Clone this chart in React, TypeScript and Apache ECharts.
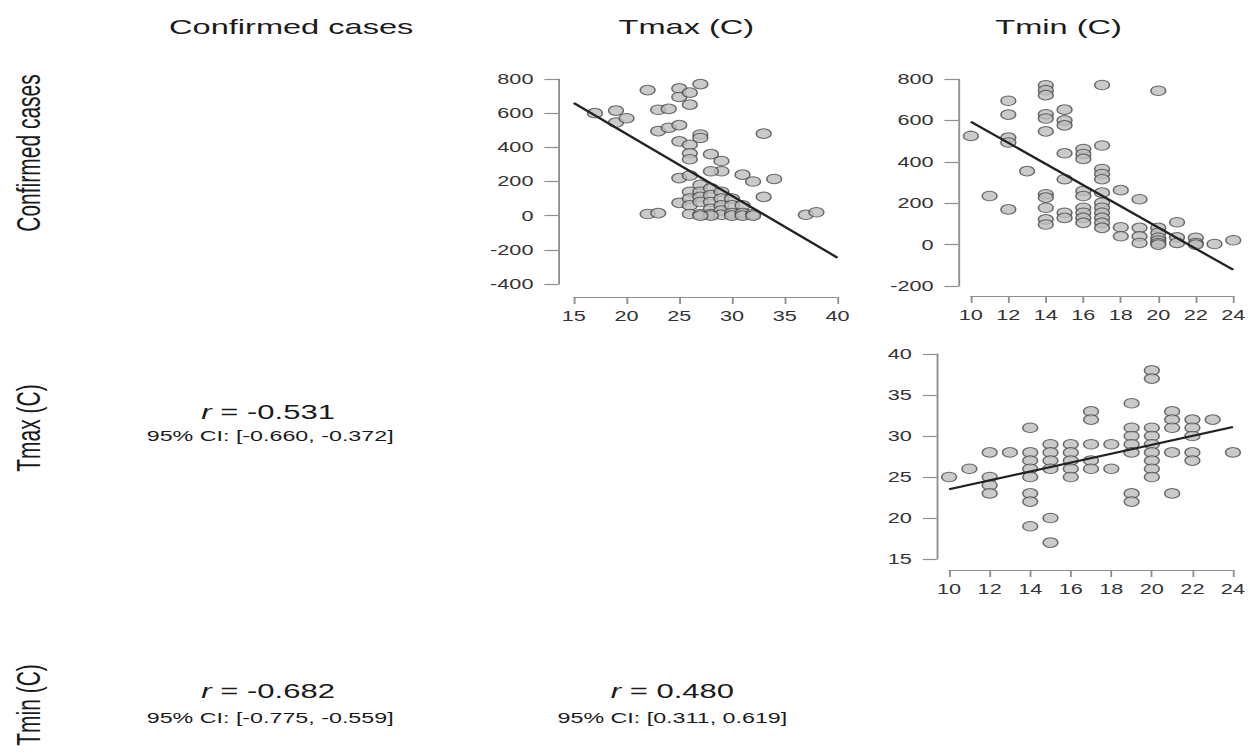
import { useEffect, useRef } from "react";
import * as echarts from "echarts";

// ---------------- data ----------------
const colHeaders = ["Confirmed cases", "Tmax (C)", "Tmin (C)"];
const rowHeaders = ["Confirmed cases", "Tmax (C)", "Tmin (C)"];

// Tmax (x) vs Confirmed cases (y)
const tmaxCasesPts: number[][] = [
  [17, 600], [19, 615], [19, 545], [20, 570], [22, 735], [23, 620], [24, 625], [23, 495], [24, 515],
  [25, 530], [25, 745], [25, 695], [26, 720], [26, 650], [27, 770], [25, 435], [26, 415], [26, 365],
  [26, 330], [27, 475], [27, 455], [28, 360], [29, 320], [29, 260], [28, 260], [25, 220], [26, 235],
  [31, 240], [32, 200], [33, 480], [34, 215], [33, 110], [25, 75], [22, 10], [23, 15], [37, 5], [38, 20],
  [26, 140], [26, 100], [26, 60], [26, 10], [27, 180], [27, 140], [27, 110], [27, 80], [27, 10],
  [28, 160], [28, 120], [28, 80], [28, 40], [28, 10], [29, 140], [29, 100], [29, 60], [29, 30], [29, 5],
  [30, 100], [30, 60], [30, 15], [30, 0], [31, 60], [31, 15], [31, 0], [32, 10], [32, 0], [28, 0], [27, 0],
];
const tmaxCasesFit: number[][] = [[15, 660], [40, -246]];

// Tmin (x) vs Confirmed cases (y)
const tminCasesPts: number[][] = [
  [10, 525], [11, 235], [12, 695], [12, 628], [12, 517], [12, 493], [12, 170], [13, 355],
  [14, 770], [14, 746], [14, 722], [14, 630], [14, 609], [14, 547], [14, 243], [14, 227], [14, 178], [14, 122], [14, 97],
  [15, 652], [15, 600], [15, 576], [15, 441], [15, 316], [15, 154], [15, 129],
  [16, 462], [16, 438], [16, 414], [16, 259], [16, 235], [16, 178], [16, 154], [16, 129], [16, 105],
  [17, 771], [17, 479], [17, 365], [17, 341], [17, 316], [17, 251], [17, 202], [17, 178], [17, 154], [17, 129], [17, 105], [17, 81],
  [18, 263], [18, 84], [18, 40],
  [19, 219], [19, 81], [19, 40], [19, 8],
  [20, 743], [20, 81], [20, 57], [20, 33], [20, 20], [20, 8], [20, 0],
  [21, 108], [21, 35], [21, 8],
  [22, 33], [22, 8], [22, 0],
  [23, 3], [24, 21],
];
const tminCasesFit: number[][] = [[10, 594], [24, -122]];

// Tmin (x) vs Tmax (y)
const tminTmaxPts: number[][] = [
  [10, 25], [11, 26], [12, 28], [12, 25], [12, 24], [12, 23], [13, 28],
  [14, 31], [14, 28], [14, 27], [14, 26], [14, 25], [14, 23], [14, 22], [14, 19],
  [15, 29], [15, 28], [15, 27], [15, 26], [15, 20], [15, 17],
  [16, 29], [16, 28], [16, 27], [16, 26], [16, 25],
  [17, 33], [17, 32], [17, 29], [17, 27], [17, 26],
  [18, 29], [18, 26],
  [19, 34], [19, 31], [19, 30], [19, 29], [19, 28], [19, 23], [19, 22],
  [20, 38], [20, 37], [20, 31], [20, 30], [20, 29], [20, 28], [20, 27], [20, 26], [20, 25],
  [21, 33], [21, 32], [21, 31], [21, 28], [21, 23],
  [22, 32], [22, 31], [22, 30], [22, 28], [22, 27],
  [23, 32], [24, 28],
];
const tminTmaxFit: number[][] = [[10, 23.5], [24, 31.1]];

const rValues = ["-0.531", "-0.682", "0.480"];
const ciTexts = ["95% CI: [-0.660, -0.372]", "95% CI: [-0.775, -0.559]", "95% CI: [0.311, 0.619]"];

// ---------------- layout / style ----------------
const STRETCH = 1.55;
const W = Math.round(1250 / STRETCH);
const H = 755;
const FONT = "'Liberation Sans', Arial, Helvetica, sans-serif";
const AXIS = "#8f8f8f";
const LABEL = "#333";

function xAx(gi: number, min: number, max: number, interval: number, offset: number) {
  return {
    type: "value", gridIndex: gi, min, max, interval, offset,
    axisLine: { show: true, onZero: false, lineStyle: { color: AXIS, width: 1.2 } },
    axisTick: { show: true, length: 7, lineStyle: { color: AXIS, width: 1.2 } },
    axisLabel: { color: LABEL, fontSize: 14, fontFamily: FONT, margin: 12 },
    splitLine: { show: false },
  };
}
function yAx(gi: number, min: number, max: number, interval: number, offset: number) {
  return {
    type: "value", gridIndex: gi, min, max, interval, offset,
    axisLine: { show: true, onZero: false, lineStyle: { color: AXIS, width: 1.2 } },
    axisTick: { show: true, length: 9, lineStyle: { color: AXIS, width: 1.2 } },
    axisLabel: { color: LABEL, fontSize: 14, fontFamily: FONT, margin: 16 },
    splitLine: { show: false },
  };
}
function scatter(i: number, data: number[][]) {
  return {
    type: "scatter", xAxisIndex: i, yAxisIndex: i, data, symbol: "circle", symbolSize: 9.5,
    itemStyle: { color: "#bdbdbd", borderColor: "#4a4a4a", borderWidth: 1 },
    z: 2,
  };
}
function fit(i: number, data: number[][]) {
  return {
    type: "line", xAxisIndex: i, yAxisIndex: i, data, symbol: "none", silent: true,
    lineStyle: { color: "#222", width: 2 }, z: 3,
  };
}
function txt(x: number, y: number, text: string, fontSize: number, extra: any = {}) {
  return {
    type: "text", x, y, ...extra,
    style: {
      text, fontSize, fontFamily: FONT, fill: "#1a1a1a",
      align: "center", verticalAlign: "middle", textAlign: "center", textVerticalAlign: "middle",
      ...(extra.style || {}),
    },
  };
}

const rowY = [153, 428, 705];
const colHX = [291, 686, 1058];
const italicR = { rich: { i: { fontStyle: "italic", fontSize: 20, fontFamily: FONT } } };

const option: any = {
  animation: false,
  backgroundColor: "#fff",
  grid: [
    { left: 370, top: 79, width: 170, height: 205 },
    { left: 626, top: 79, width: 170, height: 207 },
    { left: 612, top: 354, width: 183, height: 205 },
  ],
  xAxis: [xAx(0, 15, 40, 5, 13), xAx(1, 10, 24, 2, 10), xAx(2, 10, 24, 2, 11)],
  yAxis: [yAx(0, -400, 800, 200, 10), yAx(1, -200, 800, 200, 8), yAx(2, 15, 40, 5, 8)],
  series: [
    scatter(0, tmaxCasesPts), fit(0, tmaxCasesFit),
    scatter(1, tminCasesPts), fit(1, tminCasesFit),
    scatter(2, tminTmaxPts), fit(2, tminTmaxFit),
  ],
  graphic: [
    ...colHeaders.map((t, i) => txt(colHX[i] / STRETCH, 27, t, 21)),
    ...rowHeaders.map((t, i) => txt(29 / STRETCH, rowY[i], t, 21, { rotation: Math.PI / 2 })),
    // correlation texts
    txt(268 / STRETCH, 412, `{i|r} = ${rValues[0]}`, 20, { style: italicR }),
    txt(270 / STRETCH, 436, ciTexts[0], 15),
    txt(268 / STRETCH, 691, `{i|r} = ${rValues[1]}`, 20, { style: italicR }),
    txt(270 / STRETCH, 718, ciTexts[1], 15),
    txt(672 / STRETCH, 691, `{i|r} = ${rValues[2]}`, 20, { style: italicR }),
    txt(672 / STRETCH, 718, ciTexts[2], 15),
  ],
};

export default function App() {
  const ref = useRef<HTMLDivElement>(null);
  useEffect(() => {
    document.body.style.margin = "0";
    const chart = echarts.init(ref.current!, null, { renderer: "svg", width: W, height: H });
    chart.setOption(option);
    return () => chart.dispose();
  }, []);
  return (
    <div style={{ position: "fixed", left: 0, top: 0, width: 1250, height: 755, overflow: "hidden", background: "#fff" }}>
      <div
        ref={ref}
        style={{ width: W, height: H, transform: `scaleX(${1250 / W})`, transformOrigin: "0 0" }}
      />
    </div>
  );
}
